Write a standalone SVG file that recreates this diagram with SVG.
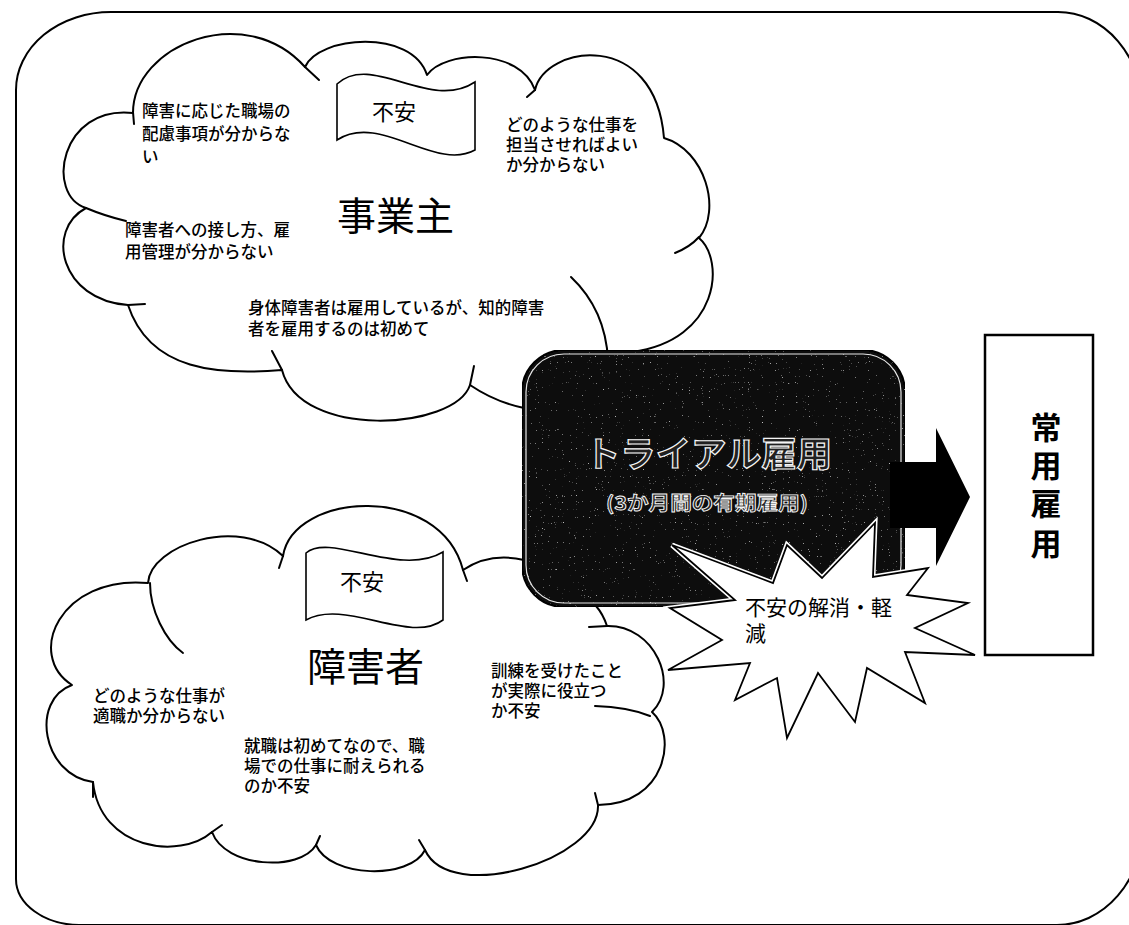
<svg xmlns="http://www.w3.org/2000/svg" width="1129" height="925" viewBox="0 0 1129 925">
<style>
.ln{fill:none;stroke:#000;stroke-width:2;stroke-linecap:round}
.cloud{fill:#fff;stroke:#000;stroke-width:2;stroke-linejoin:round}
.flag{fill:#fff;stroke:#000;stroke-width:1.6}
.t{font-family:"Noto Sans CJK JP","Noto Sans CJK SC",sans-serif;font-size:16.5px;fill:#000;font-weight:500}
.big{font-size:39px;font-weight:400}
.fl{font-size:22px;font-weight:400}
.ttl{font-family:"Noto Sans CJK JP","Noto Sans CJK SC",sans-serif;font-weight:700;fill:#202020;stroke:#f6f6f6;stroke-width:1.2}
.reg{font-family:"Noto Sans CJK JP","Noto Sans CJK SC",sans-serif;font-size:31px;font-weight:700;text-anchor:middle}
</style>
<defs>
<filter id="speck" x="0" y="0" width="1" height="1">
<feTurbulence type="fractalNoise" baseFrequency="0.85" numOctaves="1" seed="7" result="n"/>
<feColorMatrix in="n" type="matrix" values="0 0 0 0 0.6  0 0 0 0 0.6  0 0 0 0 0.6  0 0 0 7 -5.0" result="s"/>
<feComposite in="s" in2="SourceAlpha" operator="in" result="sp"/>
<feMerge><feMergeNode in="SourceGraphic"/><feMergeNode in="sp"/></feMerge>
</filter>
<polygon id="star" points="672,545 773,583 787,545 822,578 875,523 873,577 928,568 907,595 968,603 915,628 975,655 905,652 925,703 867,668 855,722 818,673 787,738 777,678 735,700 750,663 668,670 722,640 670,608 735,600"/>
</defs>

<g id="frame">
<path class="ln" d="M16,90 A95,78 0 0 1 111,12 L1058,12 A85,100 0 0 1 1143,112 L1143,825 A86,100 0 0 1 1057,925 L79,925 A64,46 0 0 1 16,879 Z"/>
</g>

<g id="cloud-employer">
<path class="cloud" d="M133,113 C133,45 245,0 305,67 C318,36 412,28 427,75 C445,50 520,48 535,90 C545,45 655,28 664,138 C705,150 722,210 699,238 C725,260 720,340 632,352 L600,420 L524,408 Q495,402 470,385 C455,430 300,440 282,370 C220,375 150,372 128,305 C60,300 45,230 86,208 C45,195 60,105 133,113 Z"/>
<path class="ln" d="M133,112 L134,124"/>
<path class="ln" d="M305,67 L319,80"/>
<path class="ln" d="M535,90 L527,97"/>
<path class="ln" d="M699,237 Q690,247 675,253"/>
<path class="ln" d="M571,277 C590,295 606,320 608,360"/>
<path class="ln" d="M470,385 L474,366"/>
<path class="ln" d="M282,370 L272,351"/>
<path class="ln" d="M128,305 L145,304"/>
<path class="ln" d="M86,208 Q105,216 126,221"/>
<path class="flag" d="M337,84 C372,52 430,112 475,82 L475,150 C435,172 380,112 337,140 Z"/>
<text class="t fl" x="372" y="120">不安</text>
<text class="t big" x="337" y="230">事業主</text>
<text class="t" x="142" y="117">障害に応じた職場の<tspan x="142" dy="23">配慮事項が分からな</tspan><tspan x="142" dy="23">い</tspan></text>
<text class="t" x="506" y="131">どのような仕事を<tspan x="506" dy="20">担当させればよい</tspan><tspan x="506" dy="20">か分からない</tspan></text>
<text class="t" x="125" y="236">障害者への接し方、雇<tspan x="125" dy="22">用管理が分からない</tspan></text>
<text class="t" x="248" y="314">身体障害者は雇用しているが、知的障害<tspan x="248" dy="21">者を雇用するのは初めて</tspan></text>
</g>

<g id="cloud-disabled">
<path class="cloud" d="M148,583 C150,545 240,515 283,556 C293,492 440,482 463,570 Q490,552 524,560 L560,590 L596,606 Q603,614 607,626 C655,625 680,685 652,712 C678,735 666,805 598,805 C600,860 450,905 425,850 C410,880 330,878 316,845 C300,872 225,868 212,832 C180,860 100,850 93,782 C42,775 30,700 72,685 C25,655 60,575 148,583 Z"/>
<path class="ln" d="M150,583 C150,610 165,640 183,653"/>
<path class="ln" d="M283,556 L279,568"/>
<path class="ln" d="M463,570 L467,581"/>
<path class="ln" d="M607,626 L589,627"/>
<path class="ln" d="M595,706 Q628,707 650,716"/>
<path class="ln" d="M598,805 L595,793"/>
<path class="ln" d="M425,850 L419,840"/>
<path class="ln" d="M316,845 L320,836"/>
<path class="ln" d="M212,832 L222,825"/>
<path class="ln" d="M93,782 L93,797"/>
<path class="flag" d="M306,553 C330,532 400,578 443,552 L443,620 C410,645 345,598 306,620 Z"/>
<text class="t fl" x="340" y="590">不安</text>
<text class="t big" x="307" y="681">障害者</text>
<text class="t" x="93" y="702">どのような仕事が<tspan x="93" dy="20">適職か分からない</tspan></text>
<text class="t" x="244" y="752">就職は初めてなので、職<tspan x="244" dy="20">場での仕事に耐えられる</tspan><tspan x="244" dy="20">のか不安</tspan></text>
<text class="t" x="491" y="677">訓練を受けたこと<tspan x="491" dy="20">が実際に役立つ</tspan><tspan x="491" dy="20">か不安</tspan></text>
</g>

<g id="trial">
<rect x="522" y="350" width="383" height="257" rx="42" fill="#101010" stroke="#000" stroke-width="2" filter="url(#speck)"/>
<rect x="526" y="354" width="375" height="249" rx="38" fill="none" stroke="#e8e8e8" stroke-width="1.2"/>
<text class="ttl" x="585" y="467" font-size="35" textLength="247" lengthAdjust="spacingAndGlyphs">トライアル雇用</text>
<text class="ttl" x="606" y="510" font-size="19" style="stroke-width:0.9" textLength="202" lengthAdjust="spacingAndGlyphs">(3か月間の有期雇用)</text>
</g>

<g id="connectors">
<path d="M890,462 L936,462 L936,428 L970,497 L936,566 L936,528 L890,528 Z" fill="#000"/>
</g>

<g id="relief">
<use href="#star" fill="none" stroke="#fff" stroke-width="5"/>
<use href="#star" fill="#fff" stroke="#000" stroke-width="1.8"/>
<text x="745" y="615" font-family="Noto Sans CJK JP, Noto Sans CJK SC, sans-serif" font-size="21" textLength="168" lengthAdjust="spacing">不安の解消・軽<tspan x="745" dy="26">減</tspan></text>
</g>

<g id="regular">
<rect x="985" y="335" width="108" height="320" fill="#fff" stroke="#000" stroke-width="2.5"/>
<text class="reg" x="1046" y="439">常<tspan x="1046" dy="38">用</tspan><tspan x="1046" dy="38">雇</tspan><tspan x="1046" dy="40">用</tspan></text>
</g>
</svg>
